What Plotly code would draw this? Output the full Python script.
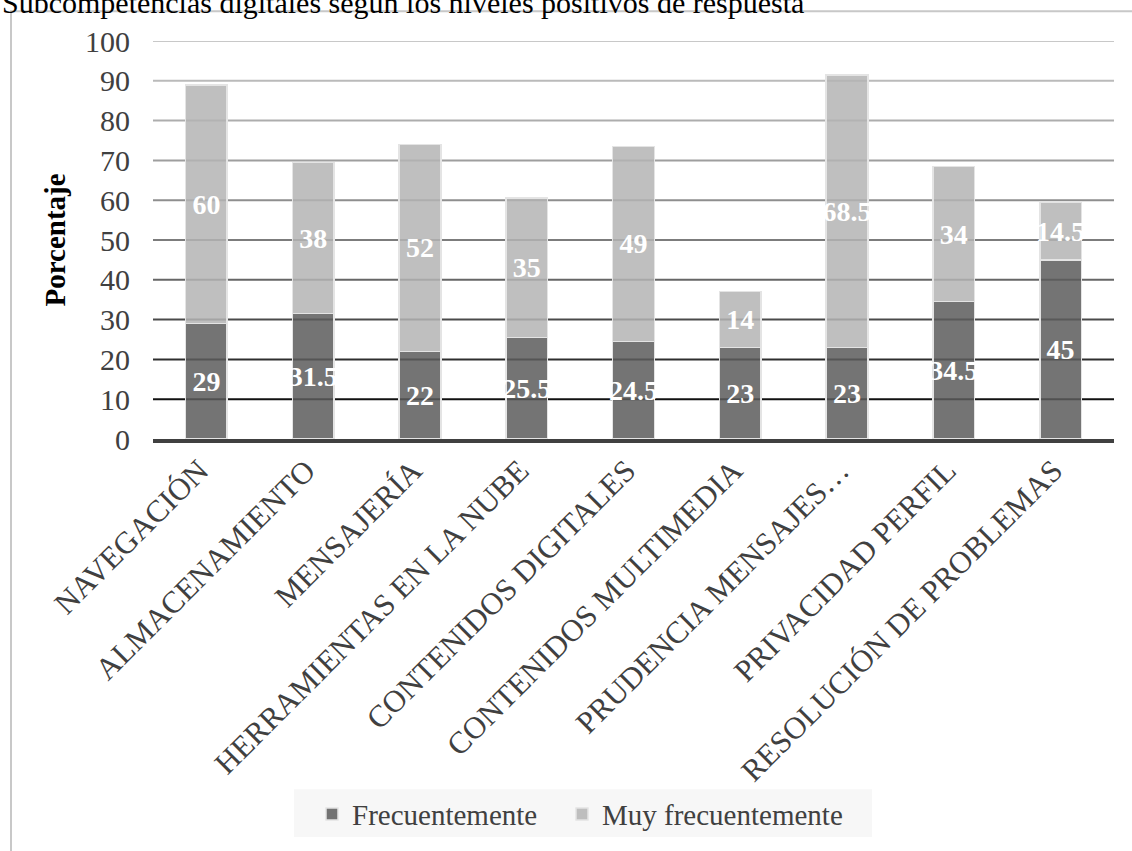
import plotly.graph_objects as go

categories = ["NAVEGACIÓN", "ALMACENAMIENTO", "MENSAJERÍA", "HERRAMIENTAS EN LA NUBE",
              "CONTENIDOS DIGITALES", "CONTENIDOS MULTIMEDIA", "PRUDENCIA MENSAJES…",
              "PRIVACIDAD PERFIL", "RESOLUCIÓN DE PROBLEMAS"]
frecuentemente = [29, 31.5, 22, 25.5, 24.5, 23, 23, 34.5, 45]
muy_frecuentemente = [60, 38, 52, 35, 49, 14, 68.5, 34, 14.5]
y_ticks = [0, 10, 20, 30, 40, 50, 60, 70, 80, 90, 100]
title_text = "Subcompetencias digitales según los niveles positivos de respuesta"

FONT = "Liberation Serif"
W, H = 1132, 851
L, R, T, B = 153, 18, 41, 409
PW, PH = W - L - R, H - T - B

def px_x(p):
    return (p - L) / PW

def px_y(p):
    return (H - B - p) / PH

grid_colors = ["#404040", "#111111", "#2e2e2e", "#4a4a4a", "#666666", "#7c7c7c",
               "#8e8e8e", "#9e9e9e", "#adadad", "#bababa", "#c8c8c8"]

fig = go.Figure()
fig.add_trace(go.Bar(
    x=categories, y=frecuentemente, name="Frecuentemente", legend="legend",
    marker=dict(color="rgba(92,92,92,0.85)", line=dict(color="#e4e4e4", width=1.5)),
    text=[f"{v:g}" for v in frecuentemente], textposition="inside",
    insidetextanchor="middle", textangle=0, constraintext="none",
    textfont=dict(family=FONT, size=28, color="white", weight="bold"),
))
fig.add_trace(go.Bar(
    x=categories, y=muy_frecuentemente, name="Muy frecuentemente", legend="legend2",
    marker=dict(color="rgba(180,180,180,0.85)", line=dict(color="#e4e4e4", width=1.5)),
    text=[f"{v:g}" for v in muy_frecuentemente], textposition="inside",
    insidetextanchor="middle", textangle=0, constraintext="none",
    textfont=dict(family=FONT, size=28, color="white", weight="bold"),
))

shapes = []
for v, c in zip(y_ticks[1:], grid_colors[1:]):
    shapes.append(dict(type="line", xref="paper", yref="y", x0=0, x1=1, y0=v, y1=v,
                       line=dict(color=c, width=2), layer="below"))
# outer chart border
shapes.append(dict(type="rect", xref="paper", yref="paper",
                   x0=px_x(11), x1=px_x(W + 20), y0=px_y(H + 20), y1=px_y(11),
                   line=dict(color="#c8c8c8", width=2), fillcolor="rgba(0,0,0,0)", layer="below"))
# legend background band
shapes.append(dict(type="rect", xref="paper", yref="paper",
                   x0=px_x(294), x1=px_x(872), y0=px_y(843), y1=px_y(795),
                   line=dict(width=0), fillcolor="#f7f7f7", layer="below"))

legend_style = dict(orientation="h", xanchor="left", yanchor="middle", y=px_y(820),
                    bgcolor="rgba(0,0,0,0)", font=dict(family=FONT, size=29, color="#404040"))

fig.update_layout(
    barmode="stack", bargap=0.61,
    width=W, height=H, autosize=False,
    margin=dict(l=L, r=R, t=T, b=B, pad=0),
    paper_bgcolor="white", plot_bgcolor="white",
    font=dict(family=FONT, size=29, color="#404040"),
    shapes=shapes,
    showlegend=True,
    legend=dict(x=px_x(312), **legend_style),
    legend2=dict(x=px_x(562), **legend_style),
    annotations=[dict(text=title_text, xref="paper", yref="paper", x=px_x(0), y=px_y(2),
                      xanchor="left", yanchor="middle", showarrow=False,
                      font=dict(family=FONT, size=30, color="#000000"))],
)
fig.update_xaxes(showgrid=False, showline=True, linecolor="#404040", linewidth=4,
                 tickangle=-45, ticks="", ticklabelstandoff=-3, ticklabelshift=-7,
                 tickfont=dict(family=FONT, size=31, color="#404040"), fixedrange=True)
fig.update_yaxes(range=[0, 100], tickvals=y_ticks, showgrid=False, zeroline=False,
                 showline=False, ticks="", ticklabelstandoff=22,
                 tickfont=dict(family=FONT, size=30, color="#404040"),
                 title=dict(text="<b>Porcentaje</b>", standoff=10,
                            font=dict(family=FONT, size=29, color="#000000")),
                 fixedrange=True)

fig.write_html("out.html", config={"displayModeBar": False})
